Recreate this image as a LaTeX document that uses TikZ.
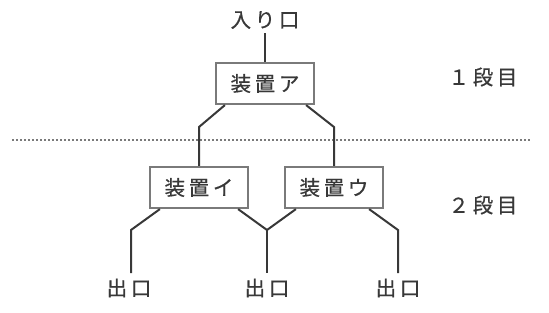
\documentclass[tikz,border=0pt]{standalone}
\usepackage{fontspec}
\newfontfamily\jpfont[LetterSpace=18,FakeBold=0.6]{Noto Sans CJK JP}
\usetikzlibrary{calc}

\definecolor{inkgray}{HTML}{383838}
\definecolor{boxgray}{HTML}{7A7A7A}

\tikzset{
  label text/.style={text=inkgray, font=\jpfont\fontsize{20.5}{20.5}\selectfont, inner sep=0pt},
  device/.style={label text, draw=boxgray, line width=2.2pt, fill=white,
                 minimum width=98pt, minimum height=41pt},
  wire/.style={draw=inkgray, line width=2pt}
}

\begin{document}
\begin{tikzpicture}[x=1pt, y=-1pt]
    \useasboundingbox (0,0) rectangle (549,313);

    % Stage separator
    \draw[boxgray, line width=1.6pt, dash pattern=on 2pt off 2pt] (12,140) -- (530,140);

    % Entrance and first stage
    \node[label text] (entry) at (265,20) {入り口};
    \node[device] (devA) at (265,83.5) {装置ア};
    \draw[wire] (entry.south) ++(0,4) coordinate (entryfoot) (entryfoot) -- (devA.north);

    % Second stage
    \node[device] (devB) at (199,187.5) {装置イ};
    \node[device] (devC) at (334,187.5) {装置ウ};

    % Exits
    \node[label text] (out1) at (129,288) {出口};
    \node[label text] (out2) at (267,288) {出口};
    \node[label text] (out3) at (398,288) {出口};

    % Stage labels
    \node[label text] (stage1) at (483,77) {１段目};
    \node[label text] (stage2) at (483,205) {２段目};

    % Branch points
    \coordinate (aL) at ($(devA.south west)+(10,0)$);
    \coordinate (aR) at ($(devA.south east)+(-9,0)$);
    \coordinate (bL) at ($(devB.south west)+(11,0)$);
    \coordinate (bR) at ($(devB.south east)+(-11,0)$);
    \coordinate (cL) at ($(devC.south west)+(12,0)$);
    \coordinate (cR) at ($(devC.south east)+(-15,0)$);
    \coordinate (joinBC) at (267,230);

    % Connections from stage 1 to stage 2
    \draw[wire] (aL) -- (devB.north |- 0,127) -- (devB.north);
    \draw[wire] (aR) -- (devC.north |- 0,127) -- (devC.north);

    % Connections from stage 2 to exits
    \draw[wire] (bL) -- (131,230) -- (131,273);
    \draw[wire] (bR) -- (joinBC) -- (cL);
    \draw[wire] (joinBC) -- (joinBC |- 0,273);
    \draw[wire] (cR) -- (398,230) -- (398,273);
\end{tikzpicture}
\end{document}
